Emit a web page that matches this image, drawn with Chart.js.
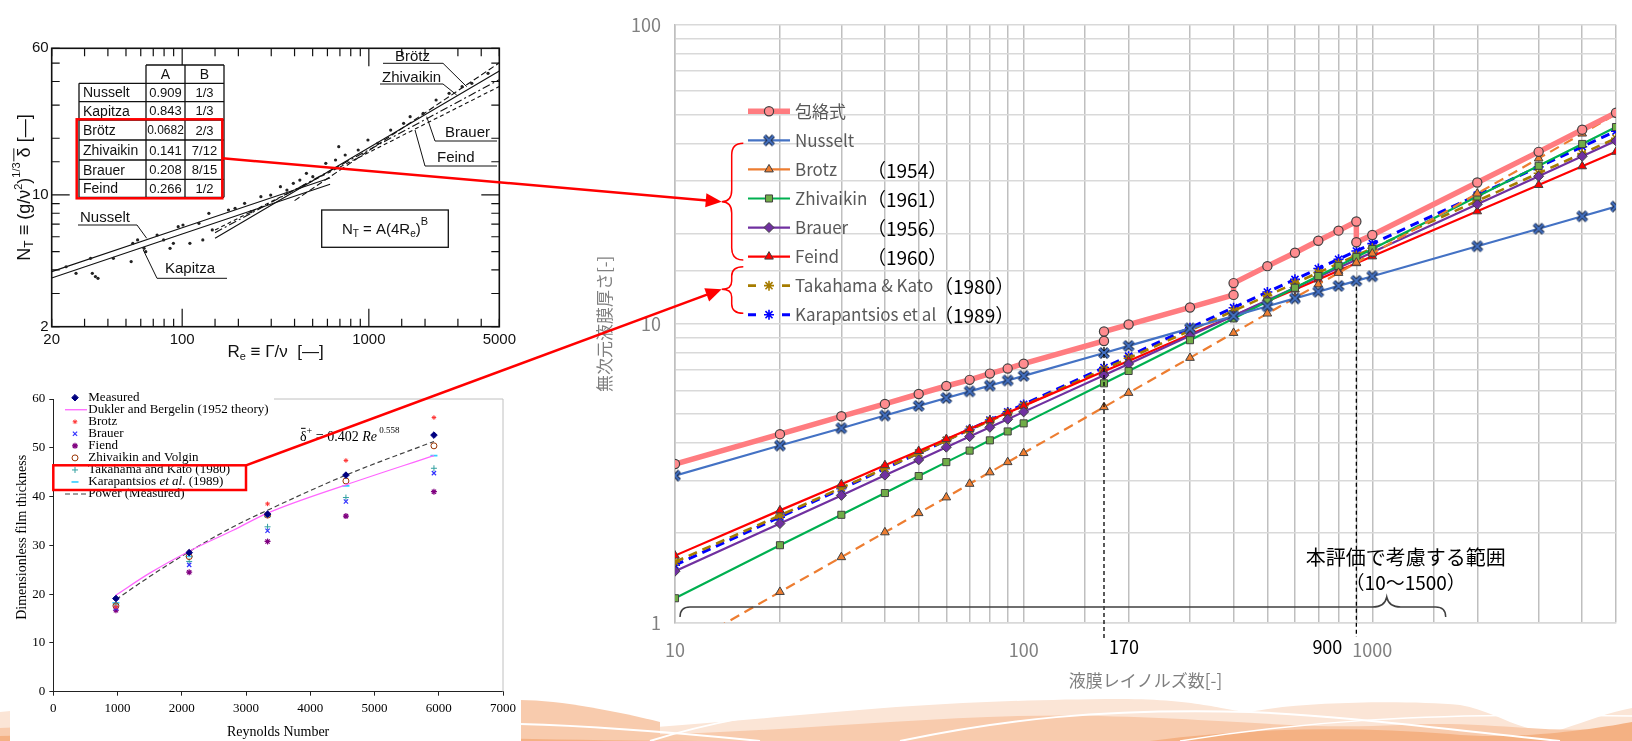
<!DOCTYPE html>
<html lang="ja">
<head>
<meta charset="utf-8">
<title>液膜厚さ相関式の比較</title>
<script src="https://cdn.jsdelivr.net/npm/chart.js@4.4.1/dist/chart.umd.min.js"></script>
<style>
html, body { margin: 0; padding: 0; background: #fff; }
#page { position: relative; width: 1632px; height: 741px; overflow: hidden; background: #fff; }
.panel { position: absolute; }
svg.layer { position: absolute; left: 0; top: 0; pointer-events: none; }
</style>
</head>
<body>
<div id="page">
  <!-- decorative waves at the bottom of the slide -->
  <svg class="layer" width="1632" height="741">
    <path d="M0,712 C120,700 200,705 300,715 C420,727 520,735 640,728 C800,718 900,700 1120,699 C1200,699 1230,712 1250,712 C1300,702 1400,700 1460,705 C1500,712 1520,735 1560,730 C1590,720 1610,712 1632,708 L1632,741 L0,741 Z" fill="#FBE5D6"/>
    <path d="M0,728 C200,718 400,738 600,736 C800,733 950,712 1100,716 C1250,720 1300,730 1400,725 C1500,720 1560,738 1632,725 L1632,741 L0,741 Z" fill="#F8CBAD"/>
    <path d="M520,700 C560,700 620,712 660,722 L660,741 L520,741 Z" fill="#F8CBAD"/>
    <path d="M0,741 L0,736 C300,730 500,741 700,741 Z" fill="#F4B183"/>
    <path d="M1150,741 C1250,728 1350,726 1450,734 C1520,741 1600,728 1632,722 L1632,741 Z" fill="#F4B183"/>
    <path d="M520,724 C600,726 700,735 760,741" fill="none" stroke="#fff" stroke-width="2"/>
    <path d="M650,741 C700,725 780,708 860,703" fill="none" stroke="#fff" stroke-width="2"/>
    <path d="M900,741 C1000,720 1100,708 1250,712 C1350,716 1450,730 1560,741" fill="none" stroke="#fff" stroke-width="2"/>
    <path d="M1180,741 C1300,722 1420,712 1632,716" fill="none" stroke="#fff" stroke-width="1.5"/>
  </svg>

  <div class="panel" style="left:0;top:36px;width:520px;height:324px;background:#fff;"><canvas id="figTop"></canvas></div>
  <div class="panel" style="left:10px;top:372px;width:511px;height:369px;background:#fff;"><canvas id="figBottom"></canvas></div>
  <div class="panel" style="left:560px;top:0;width:1072px;height:741px;"><canvas id="mainChart"></canvas></div>

  <!-- red call-outs linking the source figures to the legend -->
  <svg class="layer" width="1632" height="741">
    <g fill="none" stroke="#FF0000">
      <rect x="76.7" y="119.3" width="145.6" height="79" stroke-width="2.5"/>
      <rect x="53.3" y="465.3" width="192.7" height="24.7" stroke-width="2.5"/>
      <line x1="222.3" y1="158.3" x2="707" y2="200.4" stroke-width="2.5"/>
      <line x1="246" y1="465.3" x2="707" y2="294.7" stroke-width="2.5"/>
      <path d="M743.3 143.3 Q731.7 143.3 731.7 155 L731.7 190 Q731.7 201.7 721.7 201.7 Q731.7 201.7 731.7 213 L731.7 248 Q731.7 260 743.3 260" stroke-width="1.5"/>
      <path d="M743.3 266.7 Q731.7 266.7 731.7 276 L731.7 281 Q731.7 289.3 721.7 289.3 Q731.7 289.3 731.7 297 L731.7 304 Q731.7 313.3 743.3 313.3" stroke-width="1.5"/>
    </g>
    <polygon points="721.7,201.7 706.4,193.3 705.2,207.3" fill="#FF0000"/>
    <polygon points="721.7,289.3 704.3,288.3 709.1,301.5" fill="#FF0000"/>
  </svg>
</div>

<script>
// ---------- main chart: film thickness vs Re ----------
const reynolds = [10, 20, 30, 40, 50, 60, 70, 80, 90, 100, 170, 200, 300, 400, 500, 600, 700, 800, 900, 1000, 2000, 3000, 4000, 5000];
const nusselt = [3.11, 3.92, 4.48, 4.94, 5.32, 5.65, 5.95, 6.22, 6.47, 6.70, 7.99, 8.44, 9.66, 10.63, 11.45, 12.17, 12.81, 13.40, 13.93, 14.43, 18.18, 20.81, 22.90, 24.67];
const brotz = [0.80, 1.27, 1.66, 2.01, 2.33, 2.63, 2.92, 3.19, 3.45, 3.70, 5.27, 5.88, 7.70, 9.33, 10.83, 12.23, 13.55, 14.81, 16.02, 17.19, 27.28, 35.75, 43.30, 50.25];
const zhivaikin = [1.21, 1.82, 2.30, 2.72, 3.10, 3.45, 3.77, 4.08, 4.37, 4.65, 6.33, 6.96, 8.82, 10.43, 11.88, 13.21, 14.46, 15.63, 16.74, 17.80, 26.67, 33.78, 39.96, 45.51];
const brauer = [1.49, 2.15, 2.67, 3.12, 3.51, 3.87, 4.20, 4.51, 4.80, 5.08, 6.74, 7.35, 9.13, 10.64, 11.99, 13.21, 14.34, 15.40, 16.40, 17.35, 25.10, 31.16, 36.34, 40.92];
const feind = [1.68, 2.38, 2.91, 3.37, 3.76, 4.12, 4.45, 4.76, 5.05, 5.32, 6.94, 7.52, 9.22, 10.64, 11.90, 13.03, 14.08, 15.05, 15.96, 16.82, 23.79, 29.14, 33.65, 37.62];
const takahamaKato = [1.60, 2.29, 2.83, 3.29, 3.70, 4.08, 4.42, 4.74, 5.04, 5.33, 7.05, 7.68, 9.50, 11.06, 12.43, 13.68, 14.84, 15.92, 16.94, 17.90, 25.78, 31.90, 37.12, 41.74];
const karapantsios = [1.56, 2.26, 2.81, 3.28, 3.70, 4.08, 4.44, 4.77, 5.08, 5.38, 7.15, 7.80, 9.71, 11.33, 12.78, 14.09, 15.31, 16.45, 17.53, 18.55, 26.94, 33.49, 39.12, 44.10];
// envelope has vertical jumps at 170, 400 and 900
const envelopeRe = [10, 20, 30, 40, 50, 60, 70, 80, 90, 100, 170, 170, 200, 300, 400, 400, 500, 600, 700, 800, 900, 900, 1000, 2000, 3000, 4000, 5000];
const envelope = [3.40, 4.28, 4.91, 5.40, 5.83, 6.20, 6.50, 6.82, 7.09, 7.36, 8.77, 9.43, 9.95, 11.35, 12.50, 13.69, 15.6, 17.3, 18.97, 20.5, 21.99, 18.75, 19.82, 29.7, 37.6, 44.6, 50.8];
const xLabelTicks = [10, 100, 1000];
const yLabelTicks = [1, 10, 100];
const guideRe = [170, 900];
const rangeRe = [10, 1500];
const legendYears = ['', '', '（1954）', '（1961）', '（1956）', '（1960）', '（1980）', '（1989）'];

// ---------- top-left figure: N_T vs Re (scanned correlation plot) ----------
const topLaminarRe = [20, 100, 620];
const topNusselt = [3.92, 6.70, 12.3];
const topKapitza = [3.63, 6.21, 11.4];
const topTurbRe = [150, 1000, 5000];
const topZhivaikin = [5.89, 17.80, 45.51];
const topBrauer = [6.31, 17.35, 40.92];
const topFeind = [6.52, 16.82, 37.62];
const topBrotzRe = [400, 1000, 5000];
const topBrotz = [9.33, 17.19, 50.25];
const topDataRe = [23.9, 27.0, 32.3, 33.0, 34.3, 35.4, 42.8, 53.3, 54.4, 57.7, 62.5, 63.8, 73.4, 79.5, 86.1, 89.7, 95.2, 101, 110, 123, 129, 139, 145, 177, 192, 216, 234, 264, 298, 336, 364, 394, 427, 463, 501, 588, 663, 690, 747, 877, 989, 1116, 1309, 1536, 1664, 1954, 2293, 2691, 3158, 3562, 4351];
const topDataN = [4.16, 3.84, 4.61, 3.84, 3.69, 3.61, 4.61, 4.43, 5.54, 5.77, 5.21, 5.00, 6.13, 5.77, 5.21, 5.54, 6.79, 6.93, 5.54, 7.07, 5.77, 7.99, 6.52, 8.32, 8.49, 9.03, 8.15, 9.79, 9.99, 11.07, 10.62, 11.53, 12.00, 13.02, 12.50, 14.72, 15.33, 18.04, 16.29, 17.32, 19.57, 18.79, 22.10, 23.98, 26.02, 27.10, 31.90, 34.60, 37.54, 39.10, 44.18];
const topXLabels = [20, 100, 1000, 5000];
const topYLabels = [2, 10, 60];
const tableNames = ['Nusselt', 'Kapitza', 'Brötz', 'Zhivaikin', 'Brauer', 'Feind'];
const tableA = ['0.909', '0.843', '0.0682', '0.141', '0.208', '0.266'];
const tableB = ['1/3', '1/3', '2/3', '7/12', '8/15', '1/2'];

// ---------- lower-left figure: dimensionless film thickness vs Reynolds number ----------
const lowRe = [975, 2115, 3335, 4555, 5925];
const lowMeasured = [19.1, 28.5, 36.4, 44.4, 52.6];
const lowBrotz = [17.4, 28.7, 38.5, 47.4, 56.2];
const lowBrauer = [17.1, 26.0, 33.0, 39.0, 44.8];
const lowFiend = [16.7, 24.5, 30.8, 36.0, 41.0];
const lowZhivaikin = [17.6, 27.7, 36.2, 43.2, 50.4];
const lowTakahama = [17.8, 26.7, 33.8, 39.8, 45.8];
const lowKarapantsios = [18.2, 27.7, 35.9, 42.2, 48.4];
const lowDuklerRe = [975, 1500, 2115, 2800, 3335, 4555, 5925];
const lowDukler = [19.8, 24.3, 28.8, 33.1, 36.6, 42.4, 48.4];
const lowPowerRe = [975, 1500, 2115, 2800, 3335, 4555, 5925];
const lowPower = [18.9, 23.6, 28.7, 33.8, 37.2, 44.4, 51.3];

const JP = '"Noto Sans CJK JP", "Noto Sans", sans-serif';
const SANS = '"Liberation Sans", Arial, sans-serif';
const SERIF = '"Liberation Serif", "Times New Roman", serif';

function pts(xs, ys) { return xs.map((x, i) => ({ x: x, y: ys[i] })); }
function isDecade(v) { const l = Math.log10(v); return Math.abs(l - Math.round(l)) < 1e-9; }

function markPoint(ctx, ds, x, y) {
  ctx.save();
  ctx.setLineDash([]);
  ctx.fillStyle = ds.pointBackgroundColor || ds.borderColor;
  ctx.strokeStyle = ds.pointBorderColor || ds.borderColor;
  ctx.lineWidth = ds.pointBorderWidth || 1;
  const opts = { pointStyle: ds.pointStyle, radius: ds.pointRadius, borderWidth: ds.pointBorderWidth || 1, rotation: 0 };
  if (Chart.helpers && Chart.helpers.drawPoint) {
    Chart.helpers.drawPoint(ctx, opts, x, y);
  } else {
    ctx.beginPath(); ctx.arc(x, y, ds.pointRadius, 0, Math.PI * 2); ctx.fill(); ctx.stroke();
  }
  ctx.restore();
}

// draw a row of text runs (sub/superscripts, italics) starting at x or centered on x
function drawRuns(ctx, runs, x, y, align) {
  let total = 0;
  runs.forEach(r => {
    ctx.font = (r.style || '') + ' ' + r.size + 'px ' + r.family;
    r.w = ctx.measureText(r.t).width;
    total += r.w;
  });
  let cx = align === 'center' ? x - total / 2 : x;
  ctx.textAlign = 'left';
  ctx.textBaseline = 'middle';
  runs.forEach(r => {
    ctx.font = (r.style || '') + ' ' + r.size + 'px ' + r.family;
    ctx.fillText(r.t, cx, y + (r.dy || 0));
    if (r.bar) {
      ctx.save();
      ctx.lineWidth = 1;
      ctx.strokeStyle = ctx.fillStyle;
      ctx.beginPath();
      ctx.moveTo(cx + 1, y - r.size * 0.62);
      ctx.lineTo(cx + r.w - 1, y - r.size * 0.62);
      ctx.stroke();
      ctx.restore();
    }
    cx += r.w;
  });
}

// Excel-like "x" marker: blue cross with a dark outline
function xMarker() {
  const c = document.createElement('canvas');
  c.width = 14; c.height = 14;
  const g = c.getContext('2d');
  g.lineCap = 'butt';
  g.beginPath();
  g.moveTo(2.5, 2.5); g.lineTo(11.5, 11.5);
  g.moveTo(11.5, 2.5); g.lineTo(2.5, 11.5);
  g.strokeStyle = '#1F2F4F'; g.lineWidth = 4.2; g.stroke();
  g.strokeStyle = '#4472C4'; g.lineWidth = 1.8; g.stroke();
  return c;
}

// ================= main chart =================
const mainDecor = {
  id: 'mainDecor',
  afterDraw(chart) {
    const { ctx, chartArea: a, scales: { x, y } } = chart;
    ctx.save();

    // axis titles
    ctx.fillStyle = '#7F7F7F';
    ctx.font = '17px ' + JP;
    ctx.textAlign = 'center';
    ctx.textBaseline = 'middle';
    ctx.fillText('液膜レイノルズ数[-]', (a.left + a.right) / 2, a.bottom + 58);
    ctx.save();
    ctx.translate(a.left - 70, (a.top + a.bottom) / 2);
    ctx.rotate(-Math.PI / 2);
    ctx.fillText('無次元液膜厚さ[-]', 0, 0);
    ctx.restore();

    // dashed guides at Re = 170 and 900
    ctx.strokeStyle = '#000';
    ctx.lineWidth = 1.3;
    ctx.setLineDash([4, 3]);
    const gx1 = x.getPixelForValue(guideRe[0]);
    const gy1 = y.getPixelForValue(envelope[envelopeRe.indexOf(guideRe[0])]);
    const gx2 = x.getPixelForValue(guideRe[1]);
    const gy2 = y.getPixelForValue(nusselt[reynolds.indexOf(guideRe[1])]);
    ctx.beginPath();
    ctx.moveTo(gx1, gy1 + 6); ctx.lineTo(gx1, a.bottom + 15);
    ctx.moveTo(gx2, gy2 + 6); ctx.lineTo(gx2, a.bottom + 14);
    ctx.stroke();
    ctx.setLineDash([]);
    ctx.fillStyle = '#000';
    ctx.font = '18px ' + JP;
    ctx.textAlign = 'left';
    ctx.fillText(String(guideRe[0]), gx1 + 5, a.bottom + 24);
    ctx.textAlign = 'right';
    ctx.fillText(String(guideRe[1]), gx2 - 14, a.bottom + 24);

    // brace marking the evaluated range
    const by = a.bottom - 16;
    const bx0 = x.getPixelForValue(rangeRe[0]) + 5;
    const bx1 = x.getPixelForValue(rangeRe[1]) + 12;
    const tip = x.getPixelForValue(1100);
    ctx.strokeStyle = '#404040';
    ctx.lineWidth = 1.5;
    ctx.beginPath();
    ctx.moveTo(bx0, by + 10);
    ctx.quadraticCurveTo(bx0, by, bx0 + 10, by);
    ctx.lineTo(tip - 14, by);
    ctx.quadraticCurveTo(tip - 2, by, tip, by - 10);
    ctx.quadraticCurveTo(tip + 2, by, tip + 14, by);
    ctx.lineTo(bx1 - 10, by);
    ctx.quadraticCurveTo(bx1, by, bx1, by + 10);
    ctx.stroke();
    ctx.fillStyle = '#000';
    ctx.textAlign = 'center';
    ctx.font = '20px ' + JP;
    ctx.fillText('本評価で考慮する範囲', tip + 19, a.bottom - 66);
    ctx.font = '19px ' + JP;
    ctx.fillText('（' + rangeRe[0] + '～' + rangeRe[1] + '）', tip + 19, a.bottom - 40);

    // legend inside the plot
    const lx = a.left + 73, ly = a.top + 86.5, rowH = 29.06;
    chart.data.datasets.forEach((ds, i) => {
      const cy = ly + i * rowH;
      ctx.save();
      ctx.strokeStyle = ds.borderColor;
      ctx.lineWidth = ds.borderWidth;
      ctx.beginPath();
      if (i >= 6) {
        ctx.moveTo(lx, cy); ctx.lineTo(lx + 8, cy);
        ctx.moveTo(lx + 34, cy); ctx.lineTo(lx + 42, cy);
      } else {
        ctx.moveTo(lx, cy); ctx.lineTo(lx + 42, cy);
      }
      ctx.stroke();
      ctx.restore();
      markPoint(ctx, ds, lx + 21, cy);
      ctx.textAlign = 'left';
      ctx.textBaseline = 'middle';
      ctx.fillStyle = '#595959';
      ctx.font = '17px ' + JP;
      ctx.fillText(ds.label, lx + 47, cy);
      if (legendYears[i]) {
        ctx.fillStyle = '#000';
        ctx.font = '19px ' + JP;
        ctx.fillText(legendYears[i], i < 6 ? lx + 119 : lx + 186, cy + 1);
      }
    });
    ctx.restore();
  }
};

const markerX = xMarker();
new Chart(document.getElementById('mainChart'), {
  type: 'line',
  data: {
    datasets: [
      { label: '包絡式', data: pts(envelopeRe, envelope), borderColor: '#FF7C80', borderWidth: 5.5,
        pointStyle: 'circle', pointRadius: 4.6, pointBackgroundColor: '#FF8C8F', pointBorderColor: '#404040', pointBorderWidth: 1.2 },
      { label: 'Nusselt', data: pts(reynolds, nusselt), borderColor: '#4472C4', borderWidth: 2.2,
        pointStyle: markerX, pointRadius: 6, pointBorderWidth: 1 },
      { label: 'Brotz', data: pts(reynolds, brotz), borderColor: '#ED7D31', borderWidth: 2.2, borderDash: [10, 6],
        pointStyle: 'triangle', pointRadius: 5, pointBackgroundColor: '#ED7D31', pointBorderColor: '#404040', pointBorderWidth: 1 },
      { label: 'Zhivaikin', data: pts(reynolds, zhivaikin), borderColor: '#00B050', borderWidth: 2.2,
        pointStyle: 'rect', pointRadius: 5, pointBackgroundColor: '#70AD47', pointBorderColor: '#404040', pointBorderWidth: 1 },
      { label: 'Brauer', data: pts(reynolds, brauer), borderColor: '#7030A0', borderWidth: 2.2,
        pointStyle: 'rectRot', pointRadius: 5, pointBackgroundColor: '#7030A0', pointBorderColor: '#404040', pointBorderWidth: 1 },
      { label: 'Feind', data: pts(reynolds, feind), borderColor: '#FF0000', borderWidth: 2.2,
        pointStyle: 'triangle', pointRadius: 5, pointBackgroundColor: '#FF0000', pointBorderColor: '#404040', pointBorderWidth: 1 },
      { label: 'Takahama & Kato', data: pts(reynolds, takahamaKato), borderColor: '#A67C00', borderWidth: 2.6, borderDash: [9, 6],
        pointStyle: 'star', pointRadius: 5, pointBackgroundColor: '#A67C00', pointBorderColor: '#A67C00', pointBorderWidth: 1.6 },
      { label: 'Karapantsios et al', data: pts(reynolds, karapantsios), borderColor: '#0000FF', borderWidth: 3, borderDash: [9, 6],
        pointStyle: 'star', pointRadius: 5, pointBackgroundColor: '#0000FF', pointBorderColor: '#0000FF', pointBorderWidth: 1.6 }
    ]
  },
  options: {
    responsive: true,
    maintainAspectRatio: false,
    animation: false,
    layout: { padding: { top: 17, right: 1, left: 0, bottom: 0 } },
    plugins: { legend: { display: false }, tooltip: { enabled: false } },
    elements: { line: { tension: 0 } },
    scales: {
      x: {
        type: 'logarithmic', min: 10, max: 5000,
        afterFit(s) { s.height = 118; },
        grid: { color: '#BFBFBF', lineWidth: 1.5, drawTicks: false },
        border: { color: '#D9D9D9', width: 1.5 },
        ticks: { autoSkip: false, maxRotation: 0, padding: 16, color: '#808080', font: { family: JP, size: 18 },
          callback: v => xLabelTicks.some(t => Math.abs(t - v) < 1e-6) ? String(v) : '' }
      },
      y: {
        type: 'logarithmic', min: 1, max: 100,
        afterFit(s) { s.width = 115; },
        grid: { color: '#D9D9D9', lineWidth: 1.5, drawTicks: false },
        border: { color: '#BFBFBF', width: 1.5 },
        ticks: { autoSkip: false, padding: 14, color: '#808080', font: { family: JP, size: 18 },
          callback: v => yLabelTicks.some(t => Math.abs(t - v) < 1e-6) ? String(v) : '' }
      }
    }
  },
  plugins: [mainDecor]
});

// ================= top-left figure =================
const topDecor = {
  id: 'topDecor',
  afterDraw(chart) {
    const { ctx, chartArea: a, scales: { x, y } } = chart;
    ctx.save();
    ctx.strokeStyle = '#111';
    ctx.fillStyle = '#111';
    ctx.lineWidth = 1.6;
    ctx.strokeRect(a.left, a.top, a.right - a.left, a.bottom - a.top);
    // inward ticks on all four sides
    ctx.lineWidth = 1.2;
    ctx.beginPath();
    x.ticks.forEach(t => {
      const px = x.getPixelForValue(t.value);
      const len = isDecade(t.value) ? 18 : 8;
      ctx.moveTo(px, a.bottom); ctx.lineTo(px, a.bottom - len);
      ctx.moveTo(px, a.top); ctx.lineTo(px, a.top + len);
    });
    y.ticks.forEach(t => {
      const py = y.getPixelForValue(t.value);
      const len = isDecade(t.value) ? 18 : 8;
      ctx.moveTo(a.left, py); ctx.lineTo(a.left + len, py);
      ctx.moveTo(a.right, py); ctx.lineTo(a.right - len, py);
    });
    ctx.stroke();

    // coefficient table
    const cx = [79, 146, 185, 224];
    const ry = [29, 47.3, 65.7, 84, 104, 124, 143.3, 161.3];
    ctx.fillStyle = '#fff';
    ctx.fillRect(cx[1], ry[0], cx[3] - cx[1], ry[1] - ry[0]);
    ctx.fillRect(cx[0], ry[1], cx[3] - cx[0], ry[7] - ry[1]);
    ctx.strokeStyle = '#111';
    ctx.lineWidth = 1.3;
    ctx.beginPath();
    ctx.moveTo(cx[1], ry[0]); ctx.lineTo(cx[3], ry[0]);
    for (let i = 1; i < ry.length; i++) { ctx.moveTo(cx[0], ry[i]); ctx.lineTo(cx[3], ry[i]); }
    ctx.moveTo(cx[0], ry[1]); ctx.lineTo(cx[0], ry[7]);
    for (let j = 1; j < 4; j++) { ctx.moveTo(cx[j], ry[0]); ctx.lineTo(cx[j], ry[7]); }
    ctx.stroke();
    ctx.fillStyle = '#111';
    ctx.textBaseline = 'middle';
    ctx.font = '14px ' + SANS;
    ctx.textAlign = 'center';
    ctx.fillText('A', (cx[1] + cx[2]) / 2, (ry[0] + ry[1]) / 2 + 1);
    ctx.fillText('B', (cx[2] + cx[3]) / 2, (ry[0] + ry[1]) / 2 + 1);
    tableNames.forEach((n, i) => {
      const my = (ry[i + 1] + ry[i + 2]) / 2 + 1;
      ctx.font = '14px ' + SANS;
      ctx.textAlign = 'left';
      ctx.fillText(n, cx[0] + 4, my);
      ctx.textAlign = 'center';
      ctx.font = (tableA[i].length > 5 ? '12px ' : '13px ') + SANS;
      ctx.fillText(tableA[i], (cx[1] + cx[2]) / 2, my);
      ctx.font = '13px ' + SANS;
      ctx.fillText(tableB[i], (cx[2] + cx[3]) / 2, my);
    });

    // labels with leader lines
    const labels = [
      { t: 'Brötz', tx: 395, ty: 21, ux0: 383, ux1: 443, uy: 27.3, lx0: 443, ly0: 27.3, lx1: 466.7, ly1: 50.7 },
      { t: 'Zhivaikin', tx: 382, ty: 41.5, ux0: 380, ux1: 443, uy: 48, lx0: 443, ly0: 48, lx1: 456.7, ly1: 59 },
      { t: 'Brauer', tx: 445, ty: 96.5, ux0: 435, ux1: 497, uy: 105, lx0: 435, ly0: 105, lx1: 426.7, ly1: 80.7 },
      { t: 'Feind', tx: 437, ty: 122, ux0: 425, ux1: 497, uy: 130, lx0: 425, ly0: 130, lx1: 415, ly1: 94 },
      { t: 'Nusselt', tx: 80, ty: 181.5, ux0: 78, ux1: 137, uy: 189, lx0: 137, ly0: 189, lx1: 146.7, ly1: 202.3 },
      { t: 'Kapitza', tx: 165, ty: 232.5, ux0: 157, ux1: 227, uy: 242.3, lx0: 157, ly0: 242.3, lx1: 143.3, ly1: 214 }
    ];
    ctx.lineWidth = 1;
    labels.forEach(l => {
      ctx.font = '15px ' + SANS;
      ctx.textAlign = 'left';
      ctx.fillText(l.t, l.tx, l.ty);
      ctx.beginPath();
      ctx.moveTo(l.ux0, l.uy); ctx.lineTo(l.ux1, l.uy);
      ctx.moveTo(l.lx0, l.ly0); ctx.lineTo(l.lx1, l.ly1);
      ctx.stroke();
    });

    // formula box
    ctx.fillStyle = '#fff';
    ctx.fillRect(321.7, 174, 126.6, 37.3);
    ctx.lineWidth = 1.3;
    ctx.strokeRect(321.7, 174, 126.6, 37.3);
    ctx.fillStyle = '#111';
    drawRuns(ctx, [
      { t: 'N', size: 15, family: SANS }, { t: 'T', size: 10, family: SANS, dy: 4 },
      { t: ' = A(4R', size: 15, family: SANS }, { t: 'e', size: 10, family: SANS, dy: 4 },
      { t: ')', size: 15, family: SANS }, { t: 'B', size: 11, family: SANS, dy: -8 }
    ], 385, 194, 'center');

    // axis titles
    drawRuns(ctx, [
      { t: 'R', size: 17, family: SANS }, { t: 'e', size: 11, family: SANS, dy: 4 },
      { t: ' ≡ Γ/ν  [—]', size: 17, family: SANS }
    ], (a.left + a.right) / 2, a.bottom + 26, 'center');
    ctx.save();
    ctx.translate(25, (a.top + a.bottom) / 2);
    ctx.rotate(-Math.PI / 2);
    drawRuns(ctx, [
      { t: 'N', size: 18, family: SANS }, { t: 'T', size: 12, family: SANS, dy: 5 },
      { t: ' ≡ (g/ν', size: 18, family: SANS }, { t: '2', size: 11, family: SANS, dy: -6 },
      { t: ')', size: 18, family: SANS }, { t: '1/3', size: 11, family: SANS, dy: -8 },
      { t: ' δ', size: 18, family: SANS, bar: true }, { t: ' [—]', size: 18, family: SANS }
    ], 0, 0, 'center');
    ctx.restore();
    ctx.restore();
  }
};

new Chart(document.getElementById('figTop'), {
  type: 'line',
  data: {
    datasets: [
      { label: 'data', data: pts(topDataRe, topDataN), showLine: false, pointRadius: 1.6, pointBackgroundColor: '#222', pointBorderColor: '#222', pointBorderWidth: 0 },
      { label: 'Nusselt', data: pts(topLaminarRe, topNusselt), borderColor: '#111', borderWidth: 1.1, pointRadius: 0 },
      { label: 'Kapitza', data: pts(topLaminarRe, topKapitza), borderColor: '#111', borderWidth: 1.1, pointRadius: 0 },
      { label: 'Brötz', data: pts(topBrotzRe, topBrotz), borderColor: '#111', borderWidth: 1.1, borderDash: [6, 3], pointRadius: 0 },
      { label: 'Zhivaikin', data: pts(topTurbRe, topZhivaikin), borderColor: '#111', borderWidth: 1.1, pointRadius: 0 },
      { label: 'Brauer', data: pts(topTurbRe, topBrauer), borderColor: '#111', borderWidth: 1.1, borderDash: [8, 3, 2, 3], pointRadius: 0 },
      { label: 'Feind', data: pts(topTurbRe, topFeind), borderColor: '#111', borderWidth: 1.1, borderDash: [4, 3], pointRadius: 0 }
    ]
  },
  options: {
    responsive: true,
    maintainAspectRatio: false,
    animation: false,
    layout: { padding: { top: 12.3, right: 8.3, left: 0, bottom: 0 } },
    plugins: { legend: { display: false }, tooltip: { enabled: false } },
    scales: {
      x: {
        type: 'logarithmic', min: 20, max: 5000,
        afterFit(s) { s.height = 33.3; },
        grid: { display: false, drawTicks: false },
        border: { display: false },
        ticks: { autoSkip: false, maxRotation: 0, padding: 4, color: '#111', font: { family: SANS, size: 15 },
          callback: v => topXLabels.some(t => Math.abs(t - v) < 1e-6) ? String(v) : '' }
      },
      y: {
        type: 'logarithmic', min: 2, max: 60,
        afterFit(s) { s.width = 51.7; },
        grid: { display: false, drawTicks: false },
        border: { display: false },
        ticks: { autoSkip: false, padding: 3, color: '#111', font: { family: SANS, size: 15 },
          callback: v => topYLabels.some(t => Math.abs(t - v) < 1e-6) ? String(v) : '' }
      }
    }
  },
  plugins: [topDecor]
});

// ================= lower-left figure =================
const lowDecor = {
  id: 'lowDecor',
  afterDraw(chart) {
    const { ctx, chartArea: a } = chart;
    ctx.save();
    ctx.strokeStyle = '#C0C0C0';
    ctx.lineWidth = 1;
    ctx.beginPath();
    ctx.moveTo(264, a.top); ctx.lineTo(a.right, a.top); ctx.lineTo(a.right, a.bottom);
    ctx.stroke();

    // legend
    const sx = 65, tx = 78.3, y0 = 25.7, rowH = 12.04;
    ctx.fillStyle = '#000';
    chart.data.datasets.forEach((ds, i) => {
      const cy = y0 + i * rowH;
      if (ds.showLine !== false) {
        ctx.save();
        ctx.strokeStyle = ds.borderColor;
        ctx.lineWidth = ds.borderWidth;
        ctx.setLineDash(ds.borderDash || []);
        ctx.beginPath(); ctx.moveTo(sx - 10, cy); ctx.lineTo(sx + 12, cy); ctx.stroke();
        ctx.restore();
      } else {
        markPoint(ctx, ds, sx, cy);
      }
      ctx.fillStyle = '#000';
      if (ds.label.indexOf('et al') >= 0) {
        drawRuns(ctx, [
          { t: 'Karapantsios ', size: 13, family: SERIF },
          { t: 'et al', size: 13, family: SERIF, style: 'italic' },
          { t: '. (1989)', size: 13, family: SERIF }
        ], tx, cy, 'left');
      } else {
        ctx.font = '13px ' + SERIF;
        ctx.textAlign = 'left';
        ctx.textBaseline = 'middle';
        ctx.fillText(ds.label, tx, cy);
      }
    });

    // fitted power-law note
    drawRuns(ctx, [
      { t: 'δ', size: 14, family: SERIF, bar: true }, { t: '+', size: 10, family: SERIF, dy: -6 },
      { t: ' = 0.402 ', size: 14, family: SERIF },
      { t: 'Re', size: 14, family: SERIF, style: 'italic' },
      { t: ' 0.558', size: 9, family: SERIF, dy: -6 }
    ], 290, 65, 'left');

    // axis titles
    ctx.font = '14px ' + SERIF;
    ctx.textAlign = 'center';
    ctx.textBaseline = 'middle';
    ctx.fillText('Reynolds Number', (a.left + a.right) / 2, a.bottom + 41);
    ctx.save();
    ctx.translate(12, (a.top + a.bottom) / 2 - 8);
    ctx.rotate(-Math.PI / 2);
    ctx.fillText('Dimensionless film thickness', 0, 0);
    ctx.restore();
    ctx.restore();
  }
};

new Chart(document.getElementById('figBottom'), {
  type: 'line',
  data: {
    datasets: [
      { label: 'Measured', data: pts(lowRe, lowMeasured), showLine: false, pointStyle: 'rectRot', pointRadius: 3.3, pointBackgroundColor: '#000080', pointBorderColor: '#000080', pointBorderWidth: 1 },
      { label: 'Dukler and Bergelin (1952 theory)', data: pts(lowDuklerRe, lowDukler), borderColor: '#FF66FF', borderWidth: 1.3, pointRadius: 0, cubicInterpolationMode: 'monotone' },
      { label: 'Brotz', data: pts(lowRe, lowBrotz), showLine: false, pointStyle: 'star', pointRadius: 2.3, pointBorderColor: '#FF3333', pointBackgroundColor: '#FF3333', pointBorderWidth: 1 },
      { label: 'Brauer', data: pts(lowRe, lowBrauer), showLine: false, pointStyle: 'crossRot', pointRadius: 3, pointBorderColor: '#3333FF', pointBackgroundColor: '#3333FF', pointBorderWidth: 1.2 },
      { label: 'Fiend', data: pts(lowRe, lowFiend), showLine: false, pointStyle: 'star', pointRadius: 3, pointBorderColor: '#800080', pointBackgroundColor: '#800080', pointBorderWidth: 1.2 },
      { label: 'Zhivaikin and Volgin', data: pts(lowRe, lowZhivaikin), showLine: false, pointStyle: 'circle', pointRadius: 3, pointBorderColor: '#993300', pointBackgroundColor: 'rgba(0,0,0,0)', pointBorderWidth: 1 },
      { label: 'Takahama and Kato (1980)', data: pts(lowRe, lowTakahama), showLine: false, pointStyle: 'cross', pointRadius: 3, pointBorderColor: '#33A0A0', pointBackgroundColor: '#33A0A0', pointBorderWidth: 1 },
      { label: 'Karapantsios et al. (1989)', data: pts(lowRe, lowKarapantsios), showLine: false, pointStyle: 'line', pointRadius: 3.5, pointBorderColor: '#33CCFF', pointBackgroundColor: '#33CCFF', pointBorderWidth: 1.6 },
      { label: 'Power (Measured)', data: pts(lowPowerRe, lowPower), borderColor: '#404040', borderWidth: 1.2, borderDash: [5, 3], pointRadius: 0, cubicInterpolationMode: 'monotone' }
    ]
  },
  options: {
    responsive: true,
    maintainAspectRatio: false,
    animation: false,
    layout: { padding: { top: 27, right: 17.7, left: 0, bottom: 0 } },
    plugins: { legend: { display: false }, tooltip: { enabled: false } },
    scales: {
      x: {
        type: 'linear', min: 0, max: 7000,
        afterFit(s) { s.height = 49.3; },
        grid: { drawOnChartArea: false, drawTicks: true, tickLength: 4, color: '#222' },
        border: { color: '#222', width: 1 },
        ticks: { stepSize: 1000, maxRotation: 0, padding: 5, color: '#000', font: { family: SERIF, size: 13 },
          callback: v => String(v) }
      },
      y: {
        type: 'linear', min: 0, max: 60,
        afterFit(s) { s.width = 43.3; },
        grid: { drawOnChartArea: false, drawTicks: true, tickLength: 4, color: '#222' },
        border: { color: '#222', width: 1 },
        ticks: { stepSize: 10, padding: 4, color: '#000', font: { family: SERIF, size: 13 },
          callback: v => String(v) }
      }
    }
  },
  plugins: [lowDecor]
});
</script>
</body>
</html>
